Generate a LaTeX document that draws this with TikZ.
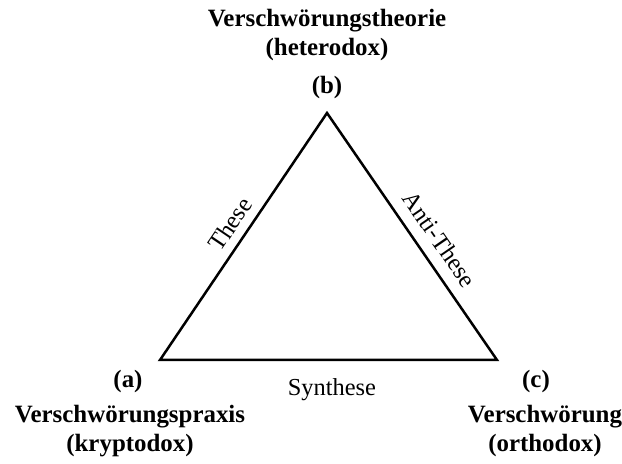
\documentclass[tikz,border=0pt]{standalone}
\usepackage{fontspec}
\setmainfont{Liberation Serif}
\usetikzlibrary{positioning}

\begin{document}
\begin{tikzpicture}[x=1bp,y=1bp,
  namebox/.style={font=\bfseries\fontsize{25}{29.5}\selectfont,align=center},
  vertexlbl/.style={font=\bfseries\fontsize{25}{29}\selectfont},
  sidelbl/.style={font=\fontsize{24.5}{28}\selectfont}]
  \useasboundingbox (0,0) rectangle (622,464);
  % corners of the triangle
  \coordinate (a) at (160,104);
  \coordinate (b) at (327,351);
  \coordinate (c) at (497,104);
  \draw[line width=2.5bp,line join=miter]
    (a) -- node[sidelbl,pos=0.51,sloped,above=5bp] (these) {These}
    (b) -- node[sidelbl,pos=0.56,sloped,above=8bp] (antithese) {Anti-These}
    (c) -- node[sidelbl,pos=0.49,below=14bp] (synthese) {Synthese}
    cycle;

  \node[vertexlbl] (lblb) at (327,376) {(b)};
  \node[vertexlbl] (lbla) at (128,82) {(a)};
  \node[vertexlbl] (lblc) at (536,82) {(c)};

  \node[namebox] (theorie) at (327,429) {Verschwörungstheorie\\(heterodox)};
  \node[namebox] (praxis) at (130,33) {Verschwörungspraxis\\(kryptodox)};
  \node[namebox] (ortho) at (545,33) {Verschwörung\\(orthodox)};
\end{tikzpicture}
\end{document}
